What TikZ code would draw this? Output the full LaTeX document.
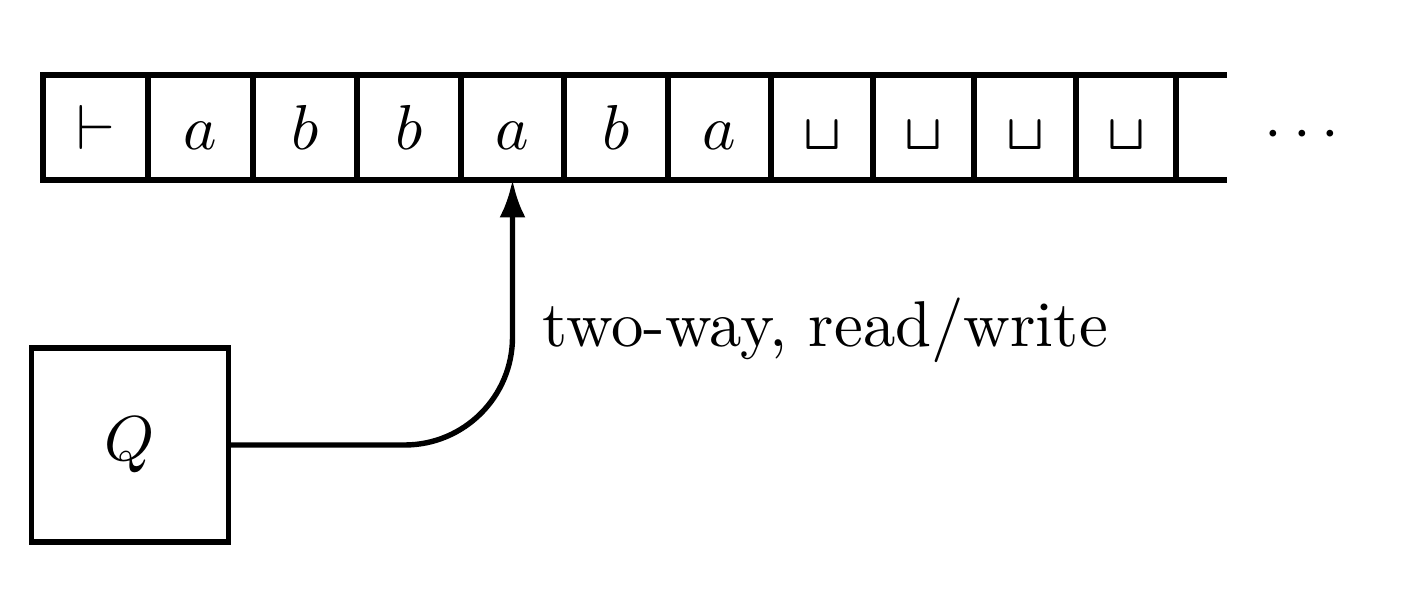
\documentclass[tikz,border=0pt]{standalone}
\usepackage{graphicx}
\usepackage{bm}
\usetikzlibrary{arrows.meta}
\newcommand{\blanksym}{\scalebox{0.78}{$\bm{\sqcup}$}}
\begin{document}
\begin{tikzpicture}[x=0.1575pt,y=-0.1575pt,line width=0.85pt,
  cell/.style={draw,rectangle,inner sep=0pt,outer sep=0pt,
    minimum height=105*0.1575pt,text height=6.94pt,text depth=0pt},
  ctrl/.style={draw,rectangle,inner sep=0pt,outer sep=0pt,
    minimum width=197*0.1575pt,minimum height=194*0.1575pt},
  headarrow/.style={-{Latex[length=5.9pt,width=4.1pt]},rounded corners=17pt}]
\useasboundingbox (0,0) rectangle (1415,599);
\foreach \l/\r/\s [count=\i] in {
  43/148/{$\vdash$},148/253/{$a$},253/357/{$b$},357/461/{$b$},
  461/564/{$a$},564/668/{$b$},668/771/{$a$},
  771/873/{\blanksym},873/974/{\blanksym},
  974/1076/{\blanksym},1076/1176/{\blanksym}}
  \node[cell,minimum width={(\r-\l)*0.1575pt}] (c\i) at ({(\l+\r)/2},127.5) {\s};
\coordinate (tapeTop) at (1227,75);
\coordinate (tapeBot) at (1227,180);
\draw (c11.north east) -- (tapeTop);
\draw (c11.south east) -- (tapeBot);
\node[anchor=base,inner sep=0pt] (dots) at (1302,149.5) {${\cdot}\mkern3mu{\cdot}\mkern3mu{\cdot}$};
\node[ctrl] (Q) at (130,445) {$Q$};
\draw[headarrow] (Q.east) -| (c5.south);
\node[anchor=base west,inner sep=0pt] (lbl) at (540,347) {\fontsize{10.2}{12}\selectfont two-way, read/write};
\end{tikzpicture}
\end{document}
